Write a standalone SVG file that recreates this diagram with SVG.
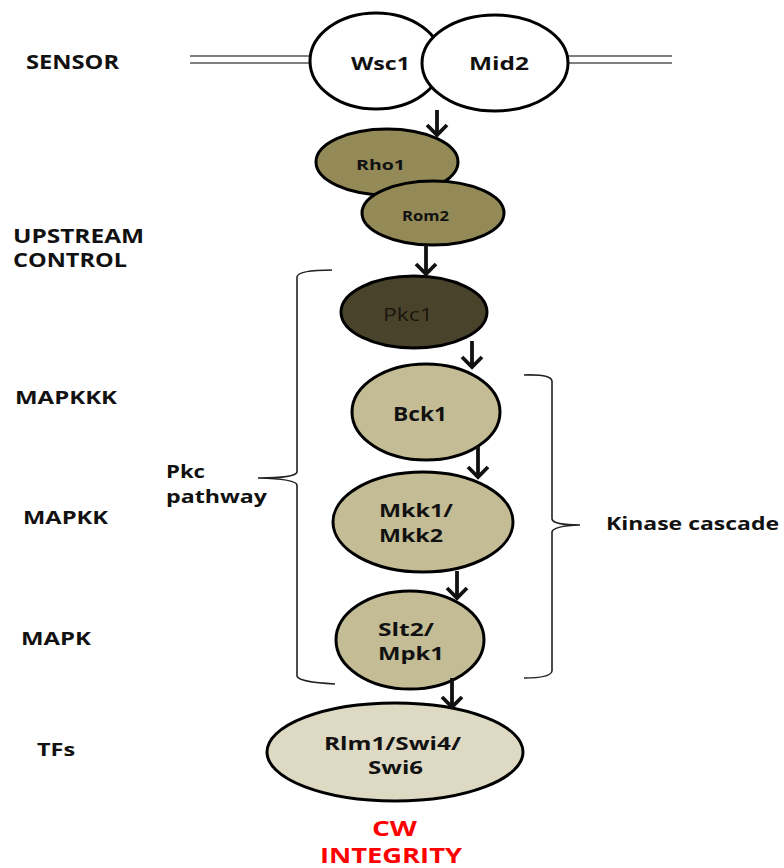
<svg xmlns="http://www.w3.org/2000/svg" width="784" height="868" viewBox="0 0 784 868">
<defs>
<style>
.lbl{font-family:"Open Sans","Liberation Sans",sans-serif;font-weight:bold;fill:#111}
.node{stroke:#000;stroke-width:3}
.mem{stroke:#555;stroke-width:1.5;fill:none}
.brace{stroke:#222;stroke-width:1.6;fill:none}
.arr{stroke:#111;stroke-width:3.8;fill:none}
</style>
<marker id="chev" markerUnits="userSpaceOnUse" markerWidth="26" markerHeight="26" viewBox="0 0 26 26" refX="14" refY="13" orient="auto">
<polyline points="4,3 14,13 4,23" fill="none" stroke="#111" stroke-width="3.8"/>
</marker>
</defs>
<rect width="784" height="868" fill="#fff"/>

<g id="membrane">
<line class="mem" x1="190" y1="56" x2="312" y2="56"/>
<line class="mem" x1="190" y1="63" x2="312" y2="63"/>
<line class="mem" x1="568" y1="56" x2="672" y2="56"/>
<line class="mem" x1="568" y1="63" x2="672" y2="63"/>
</g>

<g id="row-labels">
<text class="lbl" x="26" y="69" font-size="19" textLength="93" lengthAdjust="spacingAndGlyphs">SENSOR</text>
<text class="lbl" x="13" y="243" font-size="19" textLength="131" lengthAdjust="spacingAndGlyphs">UPSTREAM</text>
<text class="lbl" x="13" y="267" font-size="19" textLength="114" lengthAdjust="spacingAndGlyphs">CONTROL</text>
<text class="lbl" x="15" y="404" font-size="17.5" textLength="102" lengthAdjust="spacingAndGlyphs">MAPKKK</text>
<text class="lbl" x="23" y="524" font-size="17.5" textLength="85" lengthAdjust="spacingAndGlyphs">MAPKK</text>
<text class="lbl" x="21" y="645" font-size="17.5" textLength="70" lengthAdjust="spacingAndGlyphs">MAPK</text>
<text class="lbl" x="37" y="756" font-size="18" textLength="38" lengthAdjust="spacingAndGlyphs">TFs</text>
</g>

<g id="sensor-wsc1">
<ellipse class="node" cx="376" cy="61" rx="66" ry="48" fill="#fff"/>
<text class="lbl" x="351" y="70" font-size="18" textLength="59" lengthAdjust="spacingAndGlyphs">Wsc1</text>
</g>
<g id="sensor-mid2">
<ellipse class="node" cx="495" cy="63" rx="73" ry="48" fill="#fff"/>
<text class="lbl" x="469" y="70" font-size="18" textLength="60" lengthAdjust="spacingAndGlyphs">Mid2</text>
</g>

<g id="rho1">
<ellipse class="node" cx="387" cy="162" rx="71" ry="33" fill="#948a57"/>
<text class="lbl" x="356" y="170" font-size="15" textLength="49" lengthAdjust="spacingAndGlyphs">Rho1</text>
</g>
<g id="rom2">
<ellipse class="node" cx="433" cy="213" rx="71" ry="32" fill="#948a57"/>
<text class="lbl" x="402" y="221" font-size="15" textLength="47" lengthAdjust="spacingAndGlyphs">Rom2</text>
</g>

<g id="pkc1">
<ellipse class="node" cx="414" cy="312" rx="73" ry="36" fill="#4a432c"/>
<text x="383" y="321" font-family="Open Sans, Liberation Sans, sans-serif" font-size="19" fill="#1a160c" textLength="50" lengthAdjust="spacingAndGlyphs">Pkc1</text>
</g>

<g id="bck1">
<ellipse class="node" cx="426" cy="412" rx="74" ry="48" fill="#c4bc95"/>
<text class="lbl" x="393" y="421" font-size="19" textLength="54" lengthAdjust="spacingAndGlyphs">Bck1</text>
</g>

<g id="mkk">
<ellipse class="node" cx="423" cy="522" rx="90" ry="50" fill="#c4bc95"/>
<text class="lbl" x="379" y="517" font-size="18" textLength="74" lengthAdjust="spacingAndGlyphs">Mkk1/</text>
<text class="lbl" x="379" y="542" font-size="18" textLength="64" lengthAdjust="spacingAndGlyphs">Mkk2</text>
</g>

<g id="slt2">
<ellipse class="node" cx="410" cy="640" rx="74" ry="49" fill="#c4bc95"/>
<text class="lbl" x="378" y="636" font-size="18" textLength="56" lengthAdjust="spacingAndGlyphs">Slt2/</text>
<text class="lbl" x="378" y="660" font-size="18" textLength="66" lengthAdjust="spacingAndGlyphs">Mpk1</text>
</g>

<g id="tfs">
<ellipse class="node" cx="395" cy="752" rx="128" ry="49" fill="#ddd9c3"/>
<text class="lbl" x="324" y="750" font-size="18" textLength="137" lengthAdjust="spacingAndGlyphs">Rlm1/Swi4/</text>
<text class="lbl" x="368" y="774" font-size="18" textLength="55" lengthAdjust="spacingAndGlyphs">Swi6</text>
</g>

<g id="outcome">
<text class="lbl" x="372" y="836" font-size="20.5" style="fill:#ff0000" textLength="45" lengthAdjust="spacingAndGlyphs">CW</text>
<text class="lbl" x="320" y="863" font-size="20.5" style="fill:#ff0000" textLength="142" lengthAdjust="spacingAndGlyphs">INTEGRITY</text>
</g>

<g id="pkc-pathway">
<path class="brace" d="M332,270 Q298,270 297,277 L297,472 Q296,478 258,478 Q296,479 297,485 L297,676 Q298,682 335,684"/>
<text class="lbl" x="166" y="478" font-size="18" textLength="39" lengthAdjust="spacingAndGlyphs">Pkc</text>
<text class="lbl" x="166" y="503" font-size="18" textLength="101" lengthAdjust="spacingAndGlyphs">pathway</text>
</g>

<g id="kinase-cascade">
<path class="brace" d="M524,375 Q551,374 552,381 L552,519 Q553,525 580,525 Q553,526 552,532 L552,671 Q551,678 524,678"/>
<text class="lbl" x="606" y="530" font-size="17.5" textLength="173" lengthAdjust="spacingAndGlyphs">Kinase cascade</text>
</g>

<g id="connectors">
<path class="arr" d="M437,110 L437,135" marker-end="url(#chev)"/>
<path class="arr" d="M426,245 L426,274" marker-end="url(#chev)"/>
<path class="arr" d="M472,341 L472,367" marker-end="url(#chev)"/>
<path class="arr" d="M478,446 L478,477" marker-end="url(#chev)"/>
<path class="arr" d="M457,571 L457,598" marker-end="url(#chev)"/>
<path class="arr" d="M452,678 L452,707" marker-end="url(#chev)"/>
</g>
</svg>
